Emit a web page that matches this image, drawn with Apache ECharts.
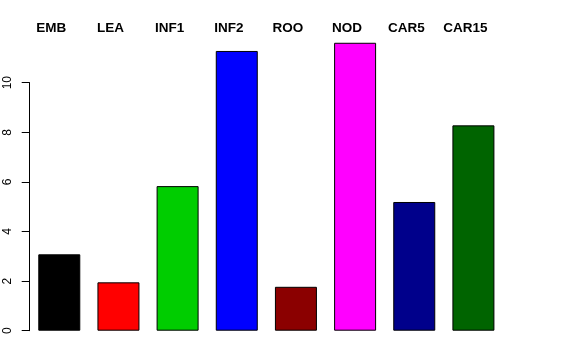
<!DOCTYPE html>
<html>
<head>
<meta charset="utf-8">
<script src="https://cdn.jsdelivr.net/npm/echarts@6/dist/echarts.min.js"></script>
<style>html,body{margin:0;padding:0;background:#fff;}#c{width:576px;height:360px;}</style>
</head>
<body>
<div id="c"></div>
<script>
const categories = ['EMB', 'LEA', 'INF1', 'INF2', 'ROO', 'NOD', 'CAR5', 'CAR15'];
const values = [3.08, 1.95, 5.83, 11.28, 1.77, 11.61, 5.19, 8.28];
const barColors = ['#000000', '#FF0000', '#00CD00', '#0000FF', '#8B0000', '#FF00FF', '#00008B', '#006400'];
const yTicks = [0, 2, 4, 6, 8, 10];

const chart = echarts.init(document.getElementById('c'), null, {renderer: 'canvas'});
chart.setOption({
  animation: false,
  backgroundColor: '#ffffff',
  grid: {left: 29.7, right: 73, top: 82.7, bottom: 29.3, containLabel: false},
  xAxis: [{
    type: 'category',
    data: categories,
    position: 'bottom',
    axisLine: {show: false},
    axisTick: {show: false},
    axisLabel: {show: false}
  }, {
    type: 'category',
    data: categories,
    position: 'top',
    axisLine: {show: false},
    axisTick: {show: false},
    axisLabel: {
      show: true,
      margin: 47,
      fontFamily: 'Liberation Sans, Arial, sans-serif',
      fontWeight: 'bold',
      fontSize: 13.5,
      color: '#000',
      padding: [0, 16, 0, 0]
    }
  }],
  yAxis: {
    type: 'value',
    min: yTicks[0],
    max: yTicks[yTicks.length - 1],
    interval: 2,
    splitLine: {show: false},
    axisLine: {show: true, lineStyle: {color: '#000', width: 1}},
    axisTick: {show: true, length: 8, lineStyle: {color: '#000', width: 1}},
    axisLabel: {
      rotate: 90,
      margin: 16,
      fontFamily: 'Liberation Sans, Arial, sans-serif',
      fontSize: 12,
      color: '#000'
    }
  },
  series: [{
    type: 'bar',
    xAxisIndex: 0,
    clip: false,
    barWidth: 42,
    data: values.map((v, i) => ({value: v, itemStyle: {color: barColors[i]}})),
    itemStyle: {borderColor: '#000', borderWidth: 1}
  }]
});
</script>
</body>
</html>
